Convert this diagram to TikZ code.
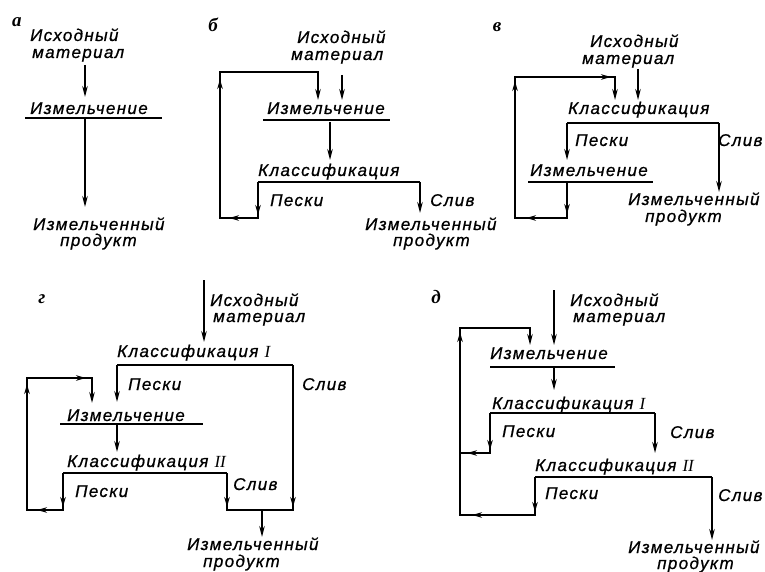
\documentclass[tikz,border=0pt]{standalone}
\usepackage{fontspec}
\newfontfamily\dfont[LetterSpace=8,FakeBold=0.8]{Liberation Sans}
\newfontfamily\lfont{Liberation Serif}
\usetikzlibrary{arrows.meta,decorations.markings}
\tikzset{
  txt/.style={font=\dfont\itshape\fontsize{17}{17}\selectfont, inner sep=0pt, anchor=base west},
  lab/.style={font=\lfont\bfseries\itshape\fontsize{19}{19}\selectfont, inner sep=0pt},
  ln/.style={line width=1.5pt, line join=miter},
  barln/.style={line width=2.3pt},
  arr/.style={ln, -{Stealth[length=11pt,width=5.5pt]}},
  tipm/.style={ln, postaction={decorate}, decoration={markings, mark=at position -#1 with {\arrow{Stealth[length=10pt,width=5.5pt]}}}}
}
\newcommand{\rn}[1]{{\lfont\itshape #1}}
\begin{document}
\begin{tikzpicture}[x=1pt,y=-1pt]
\useasboundingbox (0,0) rectangle (765,572);
% ---------- panel a
\node[lab] (La) at (17,22) {а};
\node[txt] (aIn1) at (30,41) {Исходный};
\node[txt] (aIn2) at (32,58) {материал};
\node[txt] (aIzm) at (30,114) {Измельчение};
\node[txt] (aOut1) at (33,230) {Измельченный};
\node[txt] (aOut2) at (60,246) {продукт};
\coordinate (a1) at (85,65); \coordinate (a2) at (85,97);
\coordinate (au1) at (25,118); \coordinate (au2) at (162,118);
\coordinate (a3) at (85,118); \coordinate (a4) at (85,207);
\draw[arr] (a1) -- (a2);
\draw[ln] (au1) -- (au2);
\draw[arr] (a3) -- (a4);
% ---------- panel b
\node[lab] (Lb) at (213,25) {б};
\node[txt] (bIn1) at (297,43) {Исходный};
\node[txt] (bIn2) at (291,60) {материал};
\node[txt] (bIzm) at (267,114) {Измельчение};
\node[txt] (bKl) at (258,176) {Классификация};
\node[txt] (bP) at (270,206) {Пески};
\node[txt] (bS) at (430,206) {Слив};
\node[txt] (bOut1) at (365,230) {Измельченный};
\node[txt] (bOut2) at (393,246) {продукт};
\coordinate (b1) at (342,75); \coordinate (b2) at (342,100);
\coordinate (bu1) at (263,120); \coordinate (bu2) at (390,120);
\coordinate (b3) at (330,122); \coordinate (b4) at (330,160);
\coordinate (bk1) at (258,182); \coordinate (bk2) at (420,182);
\coordinate (bk3) at (420,213);
\coordinate (bf1) at (258,218); \coordinate (bf2) at (220,218);
\coordinate (bf3) at (220,72); \coordinate (bf4) at (318,72); \coordinate (bf5) at (318,100);
\draw[arr] (b1) -- (b2);
\draw[ln] (bu1) -- (bu2);
\draw[arr] (b3) -- (b4);
\draw[barln] (bk1) -- (bk2);
\draw[arr] (bk2) -- (bk3);
\draw[arr] (bk1) -- (bf1) -- (bf2) -- (bf3) -- (bf4) -- (bf5);
\draw[tipm=3pt] (bk1) -- (bf1);
\draw[tipm=9pt] (bf1) -- (bf2);
\draw[tipm=7pt] (bf2) -- (bf3);
% ---------- panel v
\node[lab] (Lv) at (497,27) {в};
\node[txt] (vIn1) at (590,47) {Исходный};
\node[txt] (vIn2) at (582,64) {материал};
\node[txt] (vKl) at (568,114) {Классификация};
\node[txt] (vP) at (575,146) {Пески};
\node[txt] (vS) at (718,146) {Слив};
\node[txt] (vIzm) at (530,176) {Измельчение};
\node[txt] (vOut1) at (628,205) {Измельченный};
\node[txt] (vOut2) at (645,222) {продукт};
\coordinate (v1) at (638,69); \coordinate (v2) at (638,100);
\coordinate (vk1) at (567,123); \coordinate (vk2) at (719,123);
\coordinate (vk3) at (567,160); \coordinate (vk4) at (719,192);
\coordinate (vu1) at (528,182); \coordinate (vu2) at (653,182);
\coordinate (vf0) at (567,182); \coordinate (vf1) at (567,218); \coordinate (vf2) at (515,218);
\coordinate (vf3) at (515,77); \coordinate (vf4) at (615,77); \coordinate (vf5) at (615,100);
\draw[arr] (v1) -- (v2);
\draw[barln] (vk1) -- (vk2);
\draw[arr] (vk1) -- (vk3);
\draw[arr] (vk2) -- (vk4);
\draw[ln] (vu1) -- (vu2);
\draw[arr] (vf0) -- (vf1) -- (vf2) -- (vf3) -- (vf4) -- (vf5);
\draw[tipm=4pt] (vf0) -- (vf1);
\draw[tipm=11pt] (vf1) -- (vf2);
\draw[tipm=4pt] (vf2) -- (vf3);
\draw[tipm=4pt] (vf3) -- (vf4);
% ---------- panel g
\node[lab] (Lg) at (42,299) {г};
\node[txt] (gIn1) at (210,306) {Исходный};
\node[txt] (gIn2) at (213,322) {материал};
\node[txt] (gKl1) at (117,357) {Классификация \rn{I}};
\node[txt] (gP1) at (128,390) {Пески};
\node[txt] (gS1) at (302,390) {Слив};
\node[txt] (gIzm) at (67,421) {Измельчение};
\node[txt] (gKl2) at (67,467) {Классификация \rn{II}};
\node[txt] (gP2) at (75,497) {Пески};
\node[txt] (gS2) at (233,490) {Слив};
\node[txt] (gOut1) at (187,550) {Измельченный};
\node[txt] (gOut2) at (203,567) {продукт};
\coordinate (g1) at (204,280); \coordinate (g2) at (204,342);
\coordinate (gk1) at (117,365); \coordinate (gk2) at (293,365);
\coordinate (gk3) at (117,402);
\coordinate (gu1) at (60,424); \coordinate (gu2) at (203,424);
\coordinate (g3) at (117,425); \coordinate (g4) at (117,452);
\coordinate (gm1) at (63,473); \coordinate (gm2) at (227,473);
\coordinate (gj1) at (227,510); \coordinate (gj2) at (293,510);
\coordinate (gj3) at (262,510); \coordinate (gj4) at (262,537);
\coordinate (gf1) at (63,510); \coordinate (gf2) at (27,510);
\coordinate (gf3) at (27,378); \coordinate (gf4) at (92,378); \coordinate (gf5) at (92,403);
\draw[arr] (g1) -- (g2);
\draw[barln] (gk1) -- (gk2);
\draw[arr] (gk1) -- (gk3);
\draw[ln] (gu1) -- (gu2);
\draw[arr] (g3) -- (g4);
\draw[barln] (gm1) -- (gm2);
\draw[ln] (gk2) -- (gj2) -- (gj1) -- (gm2);
\draw[tipm=3pt] (gk2) -- (gj2);
\draw[tipm=3pt] (gm2) -- (gj1);
\draw[arr] (gj3) -- (gj4);
\draw[arr] (gm1) -- (gf1) -- (gf2) -- (gf3) -- (gf4) -- (gf5);
\draw[tipm=3pt] (gm1) -- (gf1);
\draw[tipm=10pt] (gf1) -- (gf2);
\draw[tipm=6pt] (gf2) -- (gf3);
\draw[tipm=6pt] (gf3) -- (gf4);
% ---------- panel d
\node[lab] (Ld) at (436,297) {д};
\node[txt] (dIn1) at (570,306) {Исходный};
\node[txt] (dIn2) at (573,322) {материал};
\node[txt] (dIzm) at (490,359) {Измельчение};
\node[txt] (dKl1) at (492,409) {Классификация \rn{I}};
\node[txt] (dP1) at (502,437) {Пески};
\node[txt] (dS1) at (670,438) {Слив};
\node[txt] (dKl2) at (535,471) {Классификация \rn{II}};
\node[txt] (dP2) at (545,499) {Пески};
\node[txt] (dS2) at (718,501) {Слив};
\node[txt] (dOut1) at (628,553) {Измельченный};
\node[txt] (dOut2) at (657,569) {продукт};
\coordinate (d1) at (554,290); \coordinate (d2) at (554,345);
\coordinate (du1) at (490,367); \coordinate (du2) at (615,367);
\coordinate (d3) at (554,368); \coordinate (d4) at (554,390);
\coordinate (dk1) at (490,413); \coordinate (dk2) at (655,413); \coordinate (dk3) at (655,453);
\coordinate (dm1) at (535,477); \coordinate (dm2) at (712,477); \coordinate (dm3) at (712,540);
\coordinate (de1) at (490,453); \coordinate (de2) at (460,453);
\coordinate (df1) at (535,515); \coordinate (df2) at (460,515);
\coordinate (df3) at (460,328); \coordinate (df4) at (530,328); \coordinate (df5) at (530,345);
\draw[arr] (d1) -- (d2);
\draw[ln] (du1) -- (du2);
\draw[arr] (d3) -- (d4);
\draw[barln] (dk1) -- (dk2);
\draw[arr] (dk2) -- (dk3);
\draw[barln] (dm1) -- (dm2);
\draw[arr] (dm2) -- (dm3);
\draw[ln] (dk1) -- (de1) -- (de2);
\draw[tipm=3pt] (dk1) -- (de1);
\draw[tipm=7pt] (de1) -- (de2);
\draw[arr] (dm1) -- (df1) -- (df2) -- (df3) -- (df4) -- (df5);
\draw[tipm=3pt] (dm1) -- (df1);
\draw[tipm=12pt] (df1) -- (df2);
\draw[tipm=4pt] (df2) -- (df3);
\end{tikzpicture}
\end{document}
